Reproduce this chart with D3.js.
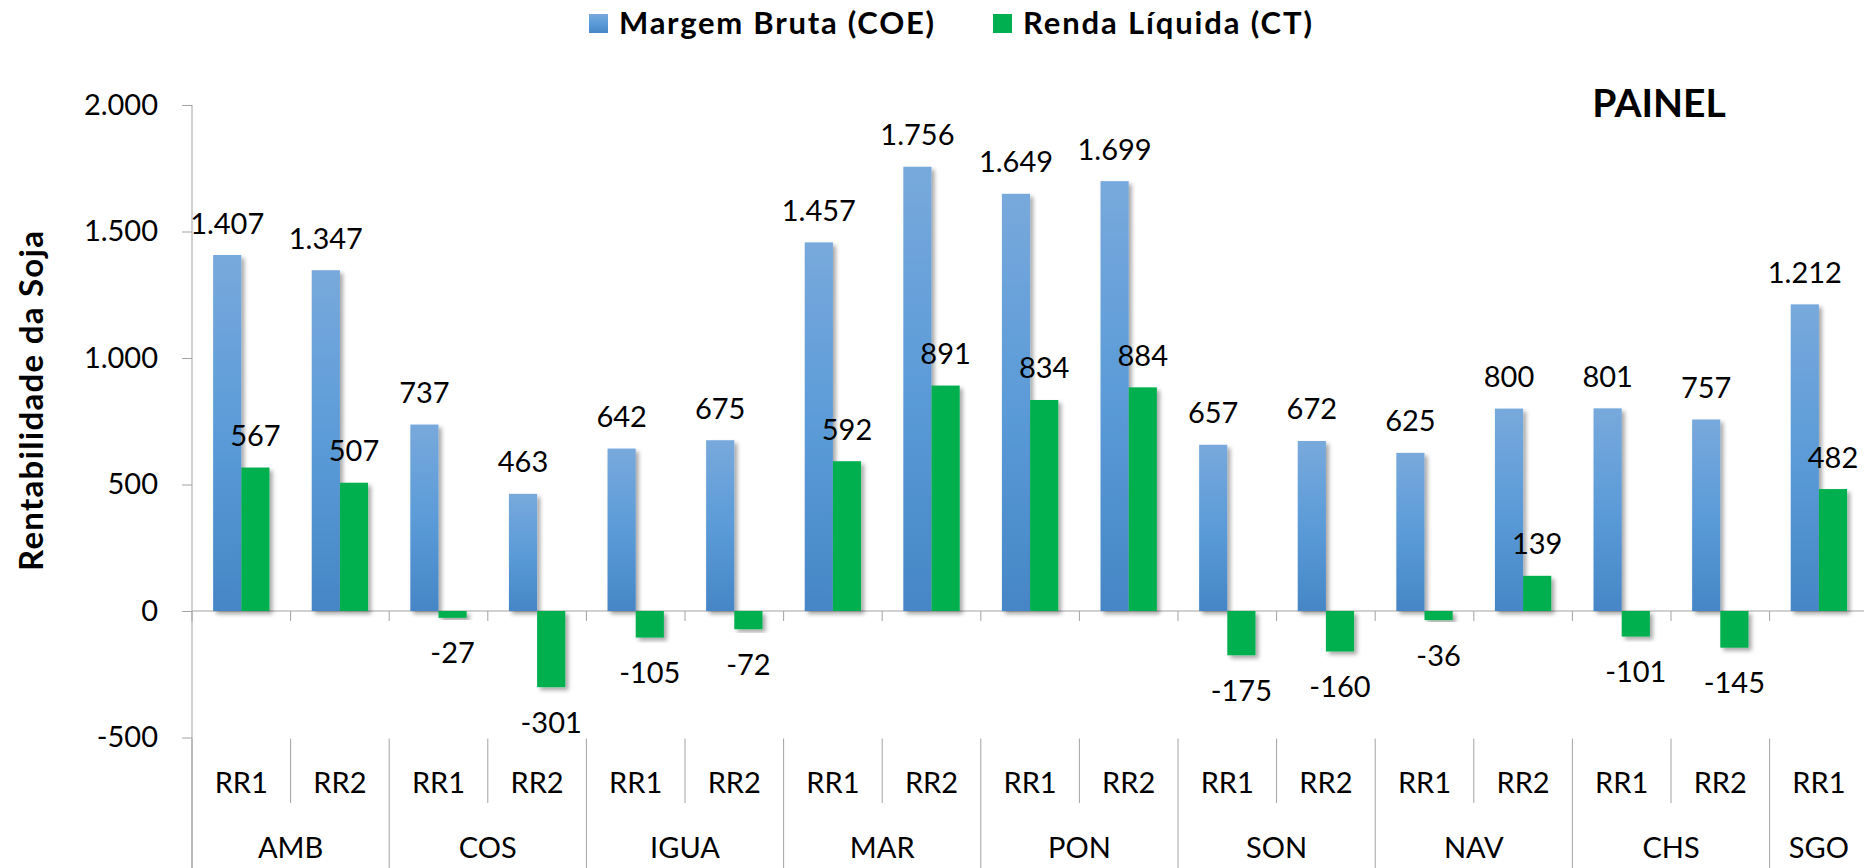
<!DOCTYPE html>
<html>
<head>
<meta charset="utf-8">
<script src="https://d3js.org/d3.v7.min.js"></script>
<style>
  body{
    margin: 0;
    background-color: #ffffff;
  }
  text{
    font-family: "Lato", sans-serif;
    fill: #000;
  }
  .axis text{
    font-size: 29px;
  }
  .data-label{
    font-size: 29px;
    text-anchor: middle;
  }
  .cat-label{
    font-size: 29px;
    text-anchor: middle;
  }
  .legend text{
    font-size: 31px;
    font-weight: 700;
  }
</style>
</head>
<body>
<div id="chart"></div>

<script>
  // categories (group + variety) and the two series
  var categoryGroup = ["AMB","AMB","COS","COS","IGUA","IGUA","MAR","MAR","PON","PON",
                       "SON","SON","NAV","NAV","CHS","CHS","SGO"];
  var categoryLabel = ["RR1","RR2","RR1","RR2","RR1","RR2","RR1","RR2","RR1","RR2",
                       "RR1","RR2","RR1","RR2","RR1","RR2","RR1"];
  var margemBruta  = [1407, 1347, 737, 463, 642, 675, 1457, 1756, 1649, 1699,
                      657, 672, 625, 800, 801, 757, 1212];
  var rendaLiquida = [567, 507, -27, -301, -105, -72, 592, 891, 834, 884,
                      -175, -160, -36, 139, -101, -145, 482];
  var seriesNames = ["Margem Bruta (COE)", "Renda Líquida (CT)"];
  var yTicks = [-500, 0, 500, 1000, 1500, 2000];

  var width = 1864, height = 868;
  var margin = {top: 105, left: 192, plotBottom: 737.5};
  var bandWidth = 98.6;

  var ptBR = d3.formatLocale({
    decimal: ",", thousands: ".", grouping: [3], currency: ["R$", ""], minus: "-"
  });
  var fmt = ptBR.format(",d");

  var svg = d3.select("#chart")
    .append("svg")
    .attr("width", width)
    .attr("height", height);

  var defs = svg.append("defs");
  var grad = defs.append("linearGradient")
    .attr("id", "blueGrad")
    .attr("x1", 0).attr("y1", 0).attr("x2", 0).attr("y2", 1);
  grad.append("stop").attr("offset", "0%").attr("stop-color", "#78a9dc");
  grad.append("stop").attr("offset", "50%").attr("stop-color", "#5b9bd8");
  grad.append("stop").attr("offset", "100%").attr("stop-color", "#4686c6");

  defs.append("filter")
    .attr("id", "shadow")
    .attr("x", "-30%").attr("y", "-10%")
    .attr("width", "170%").attr("height", "130%")
    .append("feDropShadow")
    .attr("dx", 3).attr("dy", 3)
    .attr("stdDeviation", 2.2)
    .attr("flood-color", "#000")
    .attr("flood-opacity", 0.35);

  var idx = d3.range(categoryLabel.length);

  var x = d3.scaleBand()
    .domain(idx)
    .range([margin.left, margin.left + bandWidth * idx.length])
    .padding(0);

  var x1 = d3.scaleBand()
    .domain([0, 1])
    .range([0, x.bandwidth()])
    .paddingInner(0)
    .paddingOuter(0.75);

  var y = d3.scaleLinear()
    .domain([-500, 2000])
    .range([margin.plotBottom, margin.top]);

  var axisColor = "#a3a3a3";

  // y axis
  var yAxis = d3.axisLeft(y)
    .tickValues(yTicks)
    .tickSize(10)
    .tickPadding(24)
    .tickFormat(fmt);

  var gY = svg.append("g")
    .attr("class", "axis")
    .attr("transform", "translate(" + margin.left + ",0)")
    .call(yAxis);
  gY.select(".domain").remove();
  gY.selectAll("line").attr("stroke", axisColor);

  svg.append("line")
    .attr("x1", margin.left).attr("x2", margin.left)
    .attr("y1", y(2000)).attr("y2", height)
    .attr("stroke", axisColor);

  // zero line and category ticks
  svg.append("line")
    .attr("x1", margin.left).attr("x2", width)
    .attr("y1", y(0)).attr("y2", y(0))
    .attr("stroke", axisColor);

  var bounds = d3.range(idx.length + 1);
  var boundX = function(i) { return margin.left + i * x.step(); };

  svg.selectAll(".zero-tick")
    .data(bounds).enter()
    .append("line")
    .attr("class", "zero-tick")
    .attr("x1", boundX).attr("x2", boundX)
    .attr("y1", y(0)).attr("y2", y(0) + 10)
    .attr("stroke", axisColor);

  // separators in the category label area
  var isGroupBound = function(i) {
    return i === 0 || i === idx.length || categoryGroup[i] !== categoryGroup[i - 1];
  };
  svg.selectAll(".sep")
    .data(bounds).enter()
    .append("line")
    .attr("class", "sep")
    .attr("x1", boundX).attr("x2", boundX)
    .attr("y1", margin.plotBottom + 1)
    .attr("y2", function(i) { return isGroupBound(i) ? height : 803; })
    .attr("stroke", axisColor);

  // bars
  var series = [margemBruta, rendaLiquida];
  var fills = ["url(#blueGrad)", "#00b050"];

  series.forEach(function(values, s) {
    svg.selectAll(".bar-" + s)
      .data(idx).enter()
      .append("rect")
      .attr("class", "bar-" + s)
      .attr("x", function(i) { return x(i) + x1(s); })
      .attr("width", x1.bandwidth())
      .attr("y", function(i) { return y(Math.max(0, values[i])); })
      .attr("height", function(i) { return Math.abs(y(values[i]) - y(0)); })
      .attr("fill", fills[s])
      .attr("filter", "url(#shadow)");
  });

  // data labels
  series.forEach(function(values, s) {
    svg.selectAll(".lab-" + s)
      .data(idx).enter()
      .append("text")
      .attr("class", "data-label lab-" + s)
      .attr("x", function(i) { return x(i) + x1(s) + x1.bandwidth() / 2; })
      .attr("y", function(i) {
        var v = values[i];
        return v >= 0 ? y(v) - 21.5 : y(v) + 45.5;
      })
      .text(function(i) { return fmt(values[i]); });
  });

  // category labels
  svg.selectAll(".cat-label.rr")
    .data(idx).enter()
    .append("text")
    .attr("class", "cat-label rr")
    .attr("x", function(i) { return x(i) + x.bandwidth() / 2; })
    .attr("y", 792.5)
    .text(function(i) { return categoryLabel[i]; });

  var groups = [];
  idx.forEach(function(i) {
    var last = groups[groups.length - 1];
    if (last && last.name === categoryGroup[i]) { last.end = i; }
    else { groups.push({name: categoryGroup[i], start: i, end: i}); }
  });

  svg.selectAll(".cat-label.grp")
    .data(groups).enter()
    .append("text")
    .attr("class", "cat-label grp")
    .attr("x", function(g) { return (x(g.start) + x(g.end) + x.bandwidth()) / 2; })
    .attr("y", 858)
    .text(function(g) { return g.name; });

  // y axis title
  svg.append("text")
    .attr("transform", "translate(43,401) rotate(-90)")
    .attr("text-anchor", "middle")
    .attr("textLength", 340)
    .style("font-size", "33px")
    .style("font-weight", 700)
    .text("Rentabilidade da Soja");

  // panel title
  svg.append("text")
    .attr("x", 1659)
    .attr("y", 117)
    .attr("text-anchor", "middle")
    .style("font-size", "39px")
    .style("font-weight", 700)
    .text("PAINEL");

  // legend
  var legend = svg.append("g").attr("class", "legend");
  var legendX = [589, 993];
  var legendLen = [315, 289];
  seriesNames.forEach(function(name, s) {
    legend.append("rect")
      .attr("x", legendX[s]).attr("y", 14)
      .attr("width", 19).attr("height", 19)
      .attr("fill", fills[s]);
    legend.append("text")
      .attr("x", legendX[s] + 30)
      .attr("y", 34)
      .attr("textLength", legendLen[s])
      .text(name);
  });
</script>
</body>
</html>
